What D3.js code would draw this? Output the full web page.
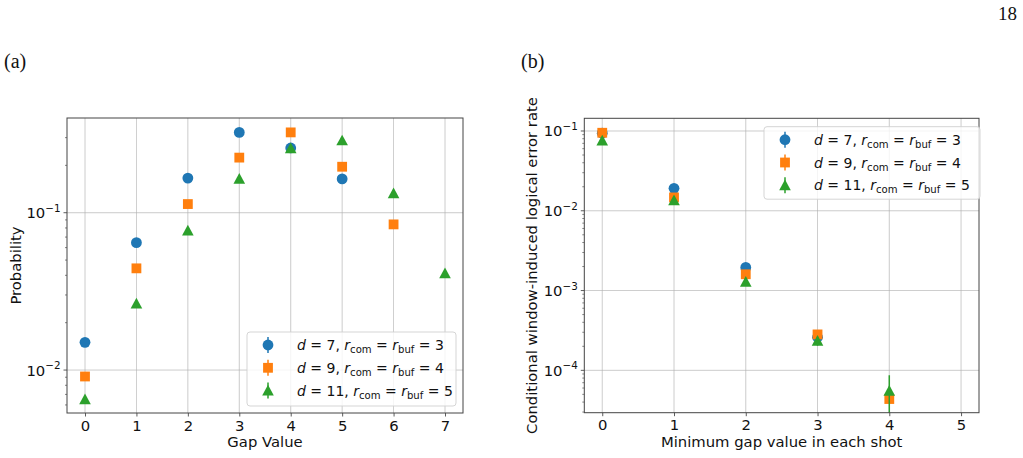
<!DOCTYPE html>
<html><head><meta charset="utf-8">
<script src="https://cdn.jsdelivr.net/npm/d3@7"></script>
<style>
html,body{margin:0;padding:0;background:#fff;}
svg{display:block;}
text{font-family:"DejaVu Sans",sans-serif;}
</style></head>
<body>
<svg id="chart" width="1023" height="458"></svg>
<script>
// ---------- data ----------
const seriesNames = ["d7", "d9", "d11"];
const legendD = ["7", "9", "11"];
const legendR = ["3", "4", "5"];
const colors = ["#1f77b4", "#ff7f0e", "#2ca02c"];
const shapes = ["circle", "square", "triangle"];

// (a) probability of gap value
const gapA = [0, 1, 2, 3, 4, 5, 6, 7];
const probD7  = [0.0150, 0.0645, 0.166, 0.324, 0.258, 0.164, null, null];
const probD9  = [0.0091, 0.0443, 0.1135, 0.224, 0.324, 0.196, 0.0843, null];
const probD11 = [0.00651, 0.0265, 0.0769, 0.164, 0.257, 0.288, 0.133, 0.0412];

// (b) conditional window-induced logical error rate
const gapB = [0, 1, 2, 3, 4];
const rateD7  = [0.094, 0.0191, 0.00195, 0.00026, null];
const rateD9  = [0.095, 0.0147, 0.0016, 0.000282, 0.0000437];
const rateD11 = [0.0757, 0.01355, 0.00129, 0.000234, 0.0000555];
const errLoD11 = [0.003, 0.0006, 0.0001, 0.00003, 0.000035];
const errHiD11 = [0.003, 0.0006, 0.0001, 0.00003, 0.000031];

const xTicksA = [0, 1, 2, 3, 4, 5, 6, 7];
const xTicksB = [0, 1, 2, 3, 4, 5];
const yTicksA = [1e-2, 1e-1];
const yTickLabelsA = ["−2", "−1"];
const yTicksB = [1e-4, 1e-3, 1e-2, 1e-1];
const yTickLabelsB = ["−4", "−3", "−2", "−1"];

const svg = d3.select("#chart");
const FS = 14.8;
const LFS = 14;
const SERIF = "'Liberation Serif','DejaVu Serif',serif";

// header texts
svg.append("text").attr("x", 1017).attr("y", 20).attr("text-anchor", "end")
  .style("font-family", SERIF).style("font-size", "19px").attr("fill", "#111").text("18");
svg.append("text").attr("x", 4).attr("y", 68)
  .style("font-family", SERIF).style("font-size", "20px").attr("fill", "#111").text("(a)");
svg.append("text").attr("x", 521).attr("y", 68)
  .style("font-family", SERIF).style("font-size", "20px").attr("fill", "#111").text("(b)");

function drawMarker(g, shape, color, x, y) {
  if (shape === "circle") {
    g.append("circle").attr("cx", x).attr("cy", y).attr("r", 5.4).attr("fill", color);
  } else if (shape === "square") {
    g.append("rect").attr("x", x - 4.9).attr("y", y - 4.9).attr("width", 9.8).attr("height", 9.8).attr("fill", color);
  } else {
    const s = 5.8;
    g.append("path").attr("d", `M${x},${y - s}L${x + s},${y + s * 0.85}L${x - s},${y + s * 0.85}Z`).attr("fill", color);
  }
}

function panel(opts) {
  const {x0, x1, y0, y1, xDom, yDom, xTicks, yTicks, yLabels, series, xLabel, yLabel, yLabelX, legend, err} = opts;
  const x = d3.scaleLinear().domain(xDom).range([x0, x1]);
  const y = d3.scaleLog().domain(yDom).range([y1, y0]);
  const g = svg.append("g");
  const clipId = "clip" + Math.round(x0);
  svg.append("clipPath").attr("id", clipId).append("rect")
    .attr("x", x0).attr("y", y0).attr("width", x1 - x0).attr("height", y1 - y0);

  // grid
  g.selectAll(".gx").data(xTicks).enter().append("line")
    .attr("x1", d => x(d)).attr("x2", d => x(d)).attr("y1", y0).attr("y2", y1)
    .attr("stroke", "#b0b0b0").attr("stroke-width", 0.8).attr("opacity", 0.8);
  g.selectAll(".gy").data(yTicks).enter().append("line")
    .attr("y1", d => y(d)).attr("y2", d => y(d)).attr("x1", x0).attr("x2", x1)
    .attr("stroke", "#b0b0b0").attr("stroke-width", 0.8).attr("opacity", 0.8);

  // x axis
  const xAxis = d3.axisBottom(x).tickValues(xTicks).tickSize(3.5).tickPadding(3.5).tickFormat(d3.format("d"));
  const xa = svg.append("g").attr("transform", `translate(0,${y1})`).call(xAxis);
  xa.select(".domain").remove();
  xa.selectAll(".tick line").attr("stroke", "#333").attr("stroke-width", 0.8);
  xa.selectAll(".tick text").style("font-size", FS + "px").attr("fill", "#111")
    .style("font-family", "'DejaVu Sans',sans-serif");

  // y axis: major + minor
  const [lo, hi] = yDom;
  const minor = [];
  for (let e = Math.floor(Math.log10(lo)); e <= Math.ceil(Math.log10(hi)); e++) {
    for (let m = 2; m <= 9; m++) {
      const v = m * Math.pow(10, e);
      if (v >= lo && v <= hi) minor.push(v);
    }
  }
  const ya = svg.append("g").attr("transform", `translate(${x0},0)`);
  ya.selectAll(".mn").data(minor).enter().append("line")
    .attr("x1", -2).attr("x2", 0).attr("y1", d => y(d)).attr("y2", d => y(d))
    .attr("stroke", "#333").attr("stroke-width", 0.6);
  ya.selectAll(".mj").data(yTicks).enter().append("line")
    .attr("x1", -3.5).attr("x2", 0).attr("y1", d => y(d)).attr("y2", d => y(d))
    .attr("stroke", "#333").attr("stroke-width", 0.8);
  const yt = ya.selectAll(".yl").data(yTicks).enter().append("text")
    .attr("x", -6.5).attr("y", d => y(d) + 5.5).attr("text-anchor", "end")
    .style("font-size", FS + "px").attr("fill", "#111");
  yt.append("tspan").text("10");
  yt.append("tspan").attr("dy", -6.5).style("font-size", (FS * 0.7) + "px").text((d, i) => yLabels[i]);

  // markers
  const mg = svg.append("g").attr("clip-path", `url(#${clipId})`);
  series.forEach((vals, si) => {
    if (err && err[si]) {
      const [elo, ehi] = err[si];
      vals.forEach((v, i) => {
        if (v == null) return;
        mg.append("line").attr("x1", x(i)).attr("x2", x(i))
          .attr("y1", y(Math.max(v - elo[i], 1e-7))).attr("y2", y(v + ehi[i]))
          .attr("stroke", colors[si]).attr("stroke-width", 1.5);
      });
    }
    vals.forEach((v, i) => {
      if (v == null) return;
      drawMarker(mg, shapes[si], colors[si], x(i), y(v));
    });
  });

  // frame
  svg.append("rect").attr("x", x0).attr("y", y0).attr("width", x1 - x0).attr("height", y1 - y0)
    .attr("fill", "none").attr("stroke", "#444").attr("stroke-width", 1);

  // labels
  svg.append("text").attr("x", (x0 + x1) / 2).attr("y", 447).attr("text-anchor", "middle")
    .style("font-size", FS + "px").attr("fill", "#111").text(xLabel);
  svg.append("text").attr("transform", `translate(${yLabelX},${(y0 + y1) / 2}) rotate(-90)`)
    .attr("text-anchor", "middle").style("font-size", FS + "px").attr("fill", "#111").text(yLabel);

  // legend
  const L = legend;
  const lg = svg.append("g");
  lg.append("rect").attr("x", L.x).attr("y", L.y).attr("width", L.w).attr("height", L.h)
    .attr("rx", 3).attr("fill", "#fff").attr("fill-opacity", 0.8).attr("stroke", "#d0d0d0").attr("stroke-width", 0.9);
  seriesNames.forEach((n, i) => {
    const cy = L.y + 13 + i * 22.8;
    const mx = L.x + 21;
    lg.append("line").attr("x1", mx).attr("x2", mx).attr("y1", cy - 8).attr("y2", cy + 8)
      .attr("stroke", colors[i]).attr("stroke-width", 1.5);
    drawMarker(lg, shapes[i], colors[i], mx, cy);
    const t = lg.append("text").attr("x", L.x + 50).attr("y", cy + 5).style("font-size", LFS + "px").attr("fill", "#111");
    t.append("tspan").style("font-style", "italic").text("d");
    t.append("tspan").text(" = " + legendD[i] + ", ");
    t.append("tspan").style("font-style", "italic").text("r");
    t.append("tspan").attr("dy", 3).style("font-size", (LFS * 0.72) + "px").text("com");
    t.append("tspan").attr("dy", -3).text(" = ");
    t.append("tspan").style("font-style", "italic").text("r");
    t.append("tspan").attr("dy", 3).style("font-size", (LFS * 0.72) + "px").text("buf");
    t.append("tspan").attr("dy", -3).text(" = " + legendR[i]);
  });
}

panel({
  x0: 67, x1: 463, y0: 118, y1: 413,
  xDom: [-0.35, 7.35], yDom: [Math.pow(10, -2.273), Math.pow(10, -0.398)],
  xTicks: xTicksA, yTicks: yTicksA, yLabels: yTickLabelsA,
  series: [probD7, probD9, probD11],
  xLabel: "Gap Value", yLabel: "Probability", yLabelX: 21,
  legend: {x: 247, y: 332, w: 209, h: 74}
});

panel({
  x0: 584.3, x1: 979, y0: 118.3, y1: 412.7,
  xDom: [-0.25, 5.25], yDom: [Math.pow(10, -4.531), Math.pow(10, -0.841)],
  xTicks: xTicksB, yTicks: yTicksB, yLabels: yTickLabelsB,
  series: [rateD7, rateD9, rateD11],
  err: [null, null, [errLoD11, errHiD11]],
  xLabel: "Minimum gap value in each shot", yLabel: "Conditional window-induced logical error rate", yLabelX: 537,
  legend: {x: 764, y: 126.7, w: 216, h: 72.5}
});
</script>
</body></html>
